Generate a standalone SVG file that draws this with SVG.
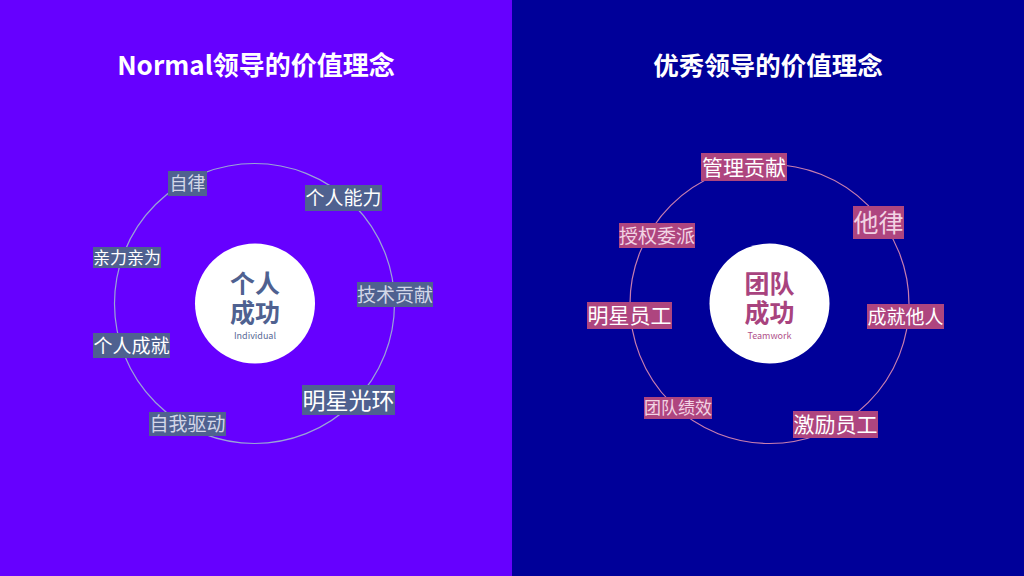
<svg xmlns="http://www.w3.org/2000/svg" width="1024" height="576" viewBox="0 0 1024 576">
<style>
text{font-family:"Noto Sans CJK SC","Noto Sans",sans-serif;text-anchor:middle}
.title{font-weight:bold;fill:#FFFFFF}
.lb{fill:#4F6190}
.rb{fill:#AE457F}
.w{fill:#FFFFFF}
.lg{fill:#D3D7E8}
.pk{fill:#F2D3E4}
.ring-l{fill:none;stroke:#9AA3D6;stroke-width:1.2}
.ring-r{fill:none;stroke:#C97EAE;stroke-width:1.2}
.core{fill:#FFFFFF}
.ct-l{fill:#4F6190;font-weight:bold;font-size:25px}
.ct-r{fill:#A8437E;font-weight:bold;font-size:25px}
</style>
<rect x="0" y="0" width="512" height="576" fill="#6600FF"/>
<rect x="512" y="0" width="512" height="576" fill="#000099"/>
<text class="title" x="256" y="75" font-size="26">Normal领导的价值理念</text>
<text class="title" x="768" y="75" font-size="25.5">优秀领导的价值理念</text>

<g id="connectors">
<circle class="ring-l" cx="254.5" cy="303.5" r="140"/>
<circle class="ring-r" cx="769.5" cy="304" r="139.5"/>
</g>

<g id="left-center">
<circle class="core" cx="255" cy="303.5" r="60"/>
<text class="ct-l" x="255" y="293"><tspan x="255" y="293">个人</tspan><tspan x="255" y="322">成功</tspan></text>
<text x="255" y="339" font-size="9" fill="#5A6A96" font-family="'Noto Sans',sans-serif">Individual</text>
</g>
<g id="l1"><rect class="lb" x="168" y="171" width="39" height="25"/><text class="lg" x="187.5" y="190" font-size="18">自律</text></g>
<g id="l2"><rect class="lb" x="305" y="185" width="77" height="26"/><text class="w" x="343.5" y="205" font-size="19">个人能力</text></g>
<g id="l3"><rect class="lb" x="93" y="247" width="68" height="21"/><text class="w" x="127" y="263.5" font-size="17">亲力亲为</text></g>
<g id="l4"><rect class="lb" x="357" y="282" width="76" height="25"/><text class="lg" x="395" y="301.5" font-size="19">技术贡献</text></g>
<g id="l5"><rect class="lb" x="93" y="333" width="77" height="25"/><text class="w" x="131.5" y="352.5" font-size="19">个人成就</text></g>
<g id="l6"><rect class="lb" x="302" y="385" width="93" height="30"/><text class="w" x="348.5" y="408.5" font-size="23">明星光环</text></g>
<g id="l7"><rect class="lb" x="149" y="412" width="77" height="24"/><text class="lg" x="187.5" y="431" font-size="19">自我驱动</text></g>

<g id="right-center">
<circle class="core" cx="769.5" cy="303.5" r="60"/>
<text class="ct-r" x="769.5" y="293"><tspan x="769.5" y="293">团队</tspan><tspan x="769.5" y="322">成功</tspan></text>
<text x="769.5" y="339" font-size="9" fill="#B0508A" font-family="'Noto Sans',sans-serif">Teamwork</text>
</g>
<g id="r1"><rect class="rb" x="701" y="153" width="86" height="28"/><text class="w" x="744" y="174.5" font-size="21">管理贡献</text></g>
<g id="r2"><rect class="rb" x="853" y="206" width="51" height="33"/><text class="pk" x="878.5" y="231.5" font-size="25">他律</text></g>
<g id="r3"><rect class="rb" x="619" y="223" width="76" height="25"/><text class="pk" x="657" y="242.5" font-size="19">授权委派</text></g>
<g id="r4"><rect class="rb" x="587" y="302" width="85" height="27"/><text class="w" x="629.5" y="323" font-size="21">明星员工</text></g>
<g id="r5"><rect class="rb" x="867" y="304" width="77" height="25"/><text class="w" x="905.5" y="323.5" font-size="19">成就他人</text></g>
<g id="r6"><rect class="rb" x="644" y="397" width="68" height="22"/><text class="pk" x="678" y="414" font-size="17">团队绩效</text></g>
<g id="r7"><rect class="rb" x="793" y="411" width="85" height="27"/><text class="w" x="835.5" y="432" font-size="21">激励员工</text></g>
</svg>
